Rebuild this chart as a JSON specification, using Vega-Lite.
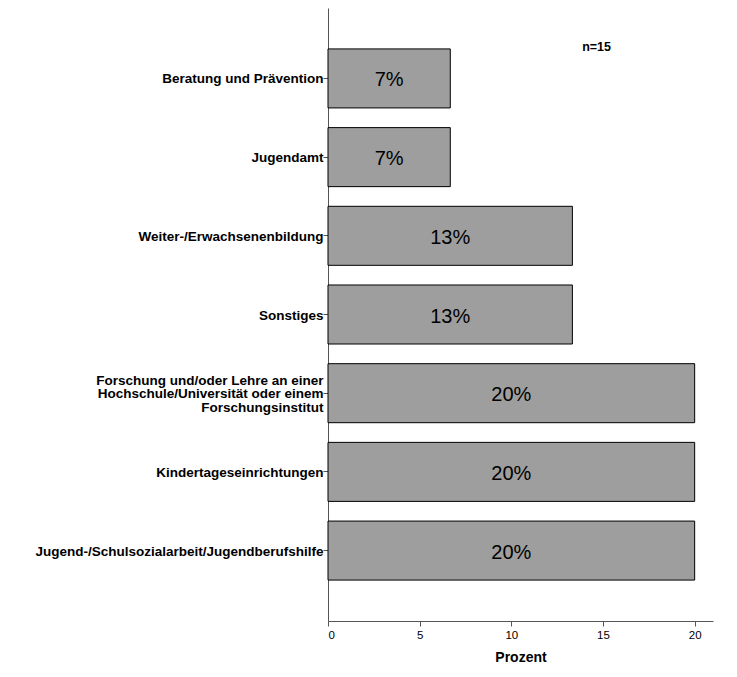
{
  "$schema": "https://vega.github.io/schema/vega-lite/v6.json",
  "autosize": "none",
  "width": 385,
  "height": 613,
  "padding": {"left": 328, "top": 8, "right": 24, "bottom": 56},
  "background": "white",
  "config": {"view": {"stroke": null}, "font": "Liberation Sans"},
  "data": {"values": [
    {"cat": "Beratung und Prävention", "pct": 6.67, "label": "7%"},
    {"cat": "Jugendamt", "pct": 6.67, "label": "7%"},
    {"cat": "Weiter-/Erwachsenenbildung", "pct": 13.33, "label": "13%"},
    {"cat": "Sonstiges", "pct": 13.33, "label": "13%"},
    {"cat": "Forschung und/oder Lehre an einer|Hochschule/Universität oder einem|Forschungsinstitut", "pct": 20, "label": "20%"},
    {"cat": "Kindertageseinrichtungen", "pct": 20, "label": "20%"},
    {"cat": "Jugend-/Schulsozialarbeit/Jugendberufshilfe", "pct": 20, "label": "20%"}
  ]},
  "encoding": {
    "y": {
      "field": "cat", "type": "nominal", "sort": null,
      "scale": {"paddingInner": 0.25, "paddingOuter": 0.52},
      "axis": {
        "title": null, "labelExpr": "split(datum.label, '|')",
        "labelFont": "Liberation Sans", "labelFontSize": 13.5, "labelFontWeight": "bold",
        "labelColor": "#000", "labelPadding": 0, "labelLineHeight": 13.5, "labelLimit": 400,
        "labelOffset": {"condition": {"test": "indexof(datum.label, '|') >= 0", "value": -12.5}, "value": 1},
        "tickSize": 5, "tickColor": "#555", "domainColor": "#555", "labelAlign": "right"
      }
    }
  },
  "layer": [
    {
      "mark": {"type": "bar", "fill": "#9e9e9e", "stroke": "#000", "strokeWidth": 1},
      "encoding": {
        "x": {
          "field": "pct", "type": "quantitative",
          "scale": {"domain": [0, 21], "nice": false},
          "axis": {
            "title": "Prozent", "values": [0, 5, 10, 15, 20], "grid": false,
            "labelFont": "Liberation Sans", "labelFontSize": 11.5, "labelColor": "#000",
            "labelPadding": 3, "tickSize": 5, "tickColor": "#555", "domainColor": "#555",
            "titleFont": "Liberation Sans", "titleFontSize": 14, "titleFontWeight": "bold",
            "titleColor": "#000", "titlePadding": 10
          }
        }
      }
    },
    {
      "transform": [{"calculate": "datum.pct / 2", "as": "mid"}],
      "mark": {"type": "text", "fontSize": 20, "font": "Liberation Sans", "color": "#000", "align": "center", "baseline": "middle", "dy": 2},
      "encoding": {
        "x": {"field": "mid", "type": "quantitative"},
        "text": {"field": "label"}
      }
    },
    {
      "data": {"values": [{"t": "n=15", "x": 14.65, "cat": "Beratung und Prävention"}]},
      "mark": {"type": "text", "fontSize": 12.5, "fontWeight": "bold", "font": "Liberation Sans", "color": "#000", "align": "center", "baseline": "middle", "dy": -31},
      "encoding": {
        "x": {"field": "x", "type": "quantitative"},
        "y": {"field": "cat", "type": "nominal"},
        "text": {"field": "t"}
      }
    }
  ]
}
